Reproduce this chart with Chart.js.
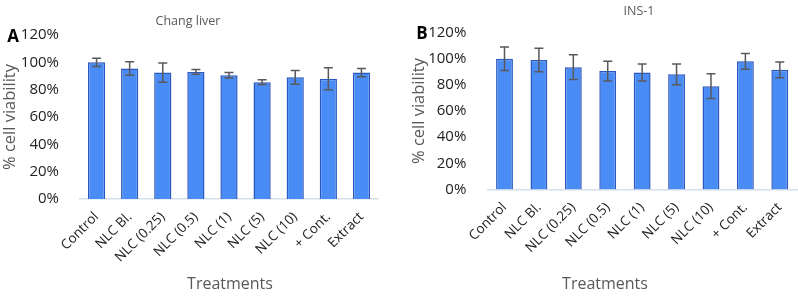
<!DOCTYPE html>
<html>
<head>
<meta charset="utf-8">
<script src="https://cdn.jsdelivr.net/npm/chart.js@4/dist/chart.umd.min.js"></script>
<style>
  body { margin: 0; background: #fff; font-family: "Open Sans", sans-serif; }
  #wrap { position: relative; width: 798px; height: 296px; overflow: hidden; }
  .panel { position: absolute; top: 0; height: 296px; }
  .txt { position: absolute; white-space: nowrap; transform: translate(-50%, -50%); }
  .letter { font-weight: bold; font-size: 17px; color: #000; }
  .ttl { font-size: 12.5px; color: #595959; }
  .xt { font-size: 16px; color: #595959; }
</style>
</head>
<body>
<div id="wrap">
  <div class="panel" style="left:0;width:400px"><canvas id="chartA" width="400" height="296"></canvas></div>
  <div class="panel" style="left:400px;width:398px"><canvas id="chartB" width="398" height="296"></canvas></div>
  <div class="txt letter" style="left:13px;top:35px">A</div>
  <div class="txt letter" style="left:422px;top:32px">B</div>
  <div class="txt ttl" style="left:188px;top:20px">Chang liver</div>
  <div class="txt ttl" style="left:639px;top:10px">INS-1</div>
  <div class="txt xt" style="left:230px;top:283px">Treatments</div>
  <div class="txt xt" style="left:605px;top:283px">Treatments</div>
</div>
<script>
// treatments on the x axis
const categories = ["Control", "NLC Bl.", "NLC (0.25)", "NLC (0.5)", "NLC (1)", "NLC (5)", "NLC (10)", "+ Cont.", "Extract"];

// Chang liver (panel A), % viability and error
const changMeans = [100, 95.5, 92.5, 93, 90.5, 85.5, 89, 88, 92.5];
const changErr = [3, 5, 7, 1.8, 2, 1.8, 5, 8, 3];

// INS-1 (panel B)
const insMeans = [100, 99, 93.5, 90.5, 89.5, 88, 79, 98, 91.5];
const insErr = [9, 9, 9.5, 7.5, 6.5, 8, 9.5, 6, 6];

const yMax = 120;
const yStep = 20;

const errorBars = {
  id: "errorBars",
  afterDatasetsDraw(chart, args, opts) {
    const ctx = chart.ctx;
    const yScale = chart.scales.y;
    const meta = chart.getDatasetMeta(0);
    const means = chart.data.datasets[0].data;
    ctx.save();
    ctx.strokeStyle = "#595959";
    ctx.lineWidth = 1.5;
    meta.data.forEach((bar, i) => {
      const top = yScale.getPixelForValue(means[i] + opts.err[i]);
      const bot = yScale.getPixelForValue(means[i] - opts.err[i]);
      ctx.beginPath();
      ctx.moveTo(bar.x, top);
      ctx.lineTo(bar.x, bot);
      ctx.moveTo(bar.x - 4.5, top);
      ctx.lineTo(bar.x + 4.5, top);
      ctx.moveTo(bar.x - 4.5, bot);
      ctx.lineTo(bar.x + 4.5, bot);
      ctx.stroke();
    });
    ctx.restore();
  }
};

function makeChart(id, means, err, geo) {
  return new Chart(document.getElementById(id), {
    type: "bar",
    data: {
      labels: categories,
      datasets: [{
        data: means,
        backgroundColor: "#4a8cf6",
        borderColor: "#2a58c0",
        borderWidth: 1.5,
        categoryPercentage: 1,
        barPercentage: geo.barPct
      }]
    },
    options: {
      responsive: false,
      animation: false,
      layout: { padding: { top: geo.top, right: geo.right, left: 0, bottom: 0 } },
      plugins: {
        legend: { display: false },
        tooltip: { enabled: false },
        errorBars: { err: err }
      },
      scales: {
        x: {
          grid: { display: false },
          border: { color: "#d5dfeb", width: 1.5 },
          ticks: {
            color: "#222",
            font: { family: "Open Sans", size: 13.5 },
            minRotation: 45,
            maxRotation: 45,
            padding: 2
          },
          afterFit: s => { s.height = geo.xh; }
        },
        y: {
          min: 0,
          max: yMax,
          grid: { display: false },
          border: { display: false },
          ticks: {
            stepSize: yStep,
            color: "#222",
            padding: 13,
            font: { family: "Open Sans", size: 15 },
            callback: v => v + "%"
          },
          title: {
            display: true,
            text: "% cell viability",
            color: "#595959",
            font: { family: "Open Sans", size: 16.5 },
            padding: { top: geo.ytp, bottom: 0 }
          },
          afterFit: s => { s.width = geo.yw; }
        }
      }
    },
    plugins: [errorBars]
  });
}

makeChart("chartA", changMeans, changErr, { top: 35, right: 22, xh: 97, yw: 80, barPct: 0.52, ytp: 0 });
makeChart("chartB", insMeans, insErr, { top: 32.5, right: 1, xh: 106.5, yw: 87.3, barPct: 0.49, ytp: 9 });
</script>
</body>
</html>
